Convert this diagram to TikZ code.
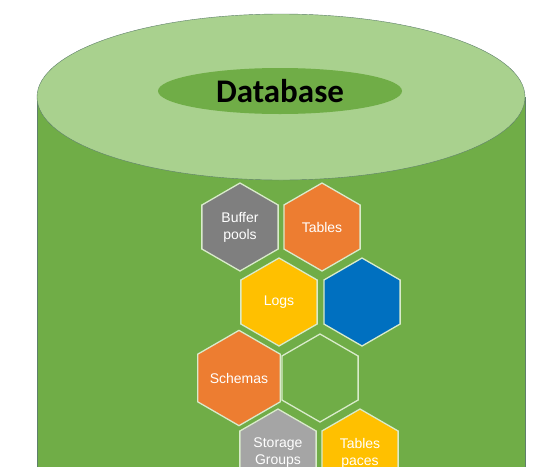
\documentclass[tikz,border=0pt]{standalone}
\usepackage{fontspec}
\setmainfont{Liberation Sans}
\newfontfamily\titlefont{Carlito}
\usetikzlibrary{shapes.geometric}

\definecolor{bodygreen}{HTML}{70AD47}
\definecolor{topgreen}{HTML}{A9D18E}
\definecolor{rimline}{HTML}{5E7F6A}
\definecolor{hexgray}{HTML}{7F7F7F}
\definecolor{hexlgray}{HTML}{A5A5A5}
\definecolor{hexorange}{HTML}{ED7D31}
\definecolor{hexyellow}{HTML}{FFC000}
\definecolor{hexblue}{HTML}{0070C0}
\definecolor{hexrim}{HTML}{D9EBCB}

\begin{document}
\begin{tikzpicture}[x=1pt,y=-1pt,
    hexa/.style={regular polygon, regular polygon sides=6, shape border rotate=30,
        minimum size=88pt, inner sep=0pt, draw=hexrim, line width=1.3pt,
        text=white, align=center, font=\fontsize{14}{17}\selectfont}]
            \path[use as bounding box,fill=white] (0,0) rectangle (553,466);
            \clip (0,0) rectangle (553,466);

            % cylinder
            \fill[bodygreen] (37,97) rectangle (525,490);
            \draw[rimline,thin] (37,97)--(37,490) (525,97)--(525,490);
            \draw[rimline,thin,fill=topgreen] (281,97) ellipse [x radius=244, y radius=83];
            \node[ellipse, fill=bodygreen, minimum width=244pt, minimum height=46pt,
                font=\titlefont\bfseries\fontsize{33}{33}\selectfont] (db) at (280,91) {Database};

            % hexagons
            \node[hexa, fill=hexgray] (buffer) at (240,227) {Buffer\\pools};
            \node[hexa, fill=hexorange] (tables) at (322,227) {Tables};
            \node[hexa, fill=hexyellow] (logs) at (279,302) {Logs};
            \node[hexa, fill=hexblue] (blue) at (362,302) {};
            \node[hexa, fill=hexorange] (schemas) at (239,378) {Schemas};
            \node[hexa, fill=bodygreen] (empty) at (320,378) {};
            \node[hexa, fill=hexlgray] (storage) at (278,453) {Storage\\Groups};
            \node[hexa, fill=hexyellow] (tspaces) at (360,453) {Tables\\paces};
        \end{tikzpicture}
\end{document}
